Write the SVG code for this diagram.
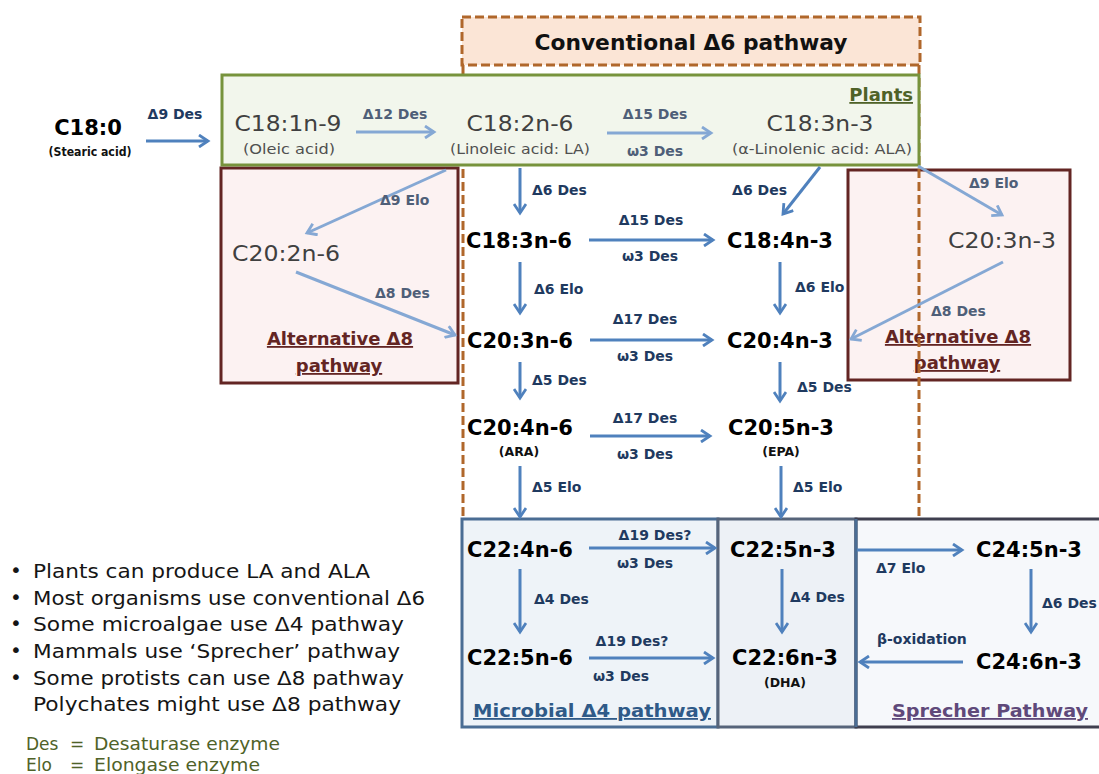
<svg xmlns="http://www.w3.org/2000/svg" width="1099" height="774" viewBox="0 0 1099 774">
<style>
text{font-family:"DejaVu Sans","Liberation Sans",sans-serif}
.n{font-weight:bold;font-size:21px;fill:#000;text-anchor:middle}
.g{font-size:21px;fill:#404040;text-anchor:middle}
.s{font-weight:bold;font-size:12.5px;fill:#111;text-anchor:middle}
.sg{font-size:14px;fill:#505050;text-anchor:middle}
.e{font-weight:bold;font-size:14px;fill:#1f3a60}
.el{font-weight:bold;font-size:14px;fill:#4f5f78}
.c{text-anchor:middle}
.ln{fill:none;stroke:#4f81bd;stroke-width:3;marker-end:url(#ah)}
.lt{fill:none;stroke:#85a8d4;stroke-width:3;marker-end:url(#al)}
.bl{font-size:20px;fill:#151515}
.lg{font-size:17px;fill:#4f6228}
.dash{stroke:#b0672b;stroke-width:3;stroke-dasharray:9 4}
.u{text-decoration:underline}
</style>
<defs>
<marker id="ah" viewBox="0 0 14 14" refX="11" refY="7" markerWidth="14" markerHeight="14" markerUnits="userSpaceOnUse" orient="auto"><path d="M2,1 L11,7 L2,13" fill="none" stroke="#4f81bd" stroke-width="2.8"/></marker>
<marker id="al" viewBox="0 0 14 14" refX="11" refY="7" markerWidth="14" markerHeight="14" markerUnits="userSpaceOnUse" orient="auto"><path d="M2,1 L11,7 L2,13" fill="none" stroke="#85a8d4" stroke-width="2.8"/></marker>
</defs>
<rect width="1099" height="774" fill="#fff"/>

<!-- containers -->
<g id="alt-left">
<rect x="221" y="168" width="237" height="215" fill="#fcf2f2" stroke="#632523" stroke-width="3"/>
<text x="340" y="345" font-weight="bold" font-size="18" fill="#632523" text-anchor="middle" class="u">Alternative Δ8</text>
<text x="339" y="372" font-weight="bold" font-size="18" fill="#632523" text-anchor="middle" class="u">pathway</text>
</g>
<g id="alt-right">
<rect x="848" y="170" width="222" height="210" fill="#fcf2f2" stroke="#632523" stroke-width="3"/>
<text x="958" y="343" font-weight="bold" font-size="18" fill="#632523" text-anchor="middle" class="u">Alternative Δ8</text>
<text x="957" y="369" font-weight="bold" font-size="18" fill="#632523" text-anchor="middle" class="u">pathway</text>
</g>
<g id="conventional">
<rect x="462" y="17" width="458" height="48" fill="#fbe5d6" class="dash"/>
<path d="M463,65 V518 M919,65 V518" fill="none" class="dash"/>
<text x="691" y="50" font-weight="bold" font-size="21" fill="#111" text-anchor="middle" textLength="313" lengthAdjust="spacingAndGlyphs">Conventional Δ6 pathway</text>
</g>
<g id="plants">
<rect x="222" y="75" width="697" height="90" fill="#f2f6ec" stroke="#77933c" stroke-width="3"/>
<text x="913" y="101" font-weight="bold" font-size="18" fill="#4f6228" text-anchor="end" class="u">Plants</text>
</g>
<g id="microbial">
<rect x="462" y="519" width="256" height="208" fill="#eef3f8" stroke="#4a6d94" stroke-width="3"/>
<text x="592" y="717" font-weight="bold" font-size="18" fill="#2f5a88" text-anchor="middle" class="u" textLength="238" lengthAdjust="spacingAndGlyphs">Microbial Δ4 pathway</text>
</g>
<g id="middle">
<rect x="718" y="519" width="138" height="208" fill="#edf1f6" stroke="#56647a" stroke-width="3"/>
</g>
<g id="sprecher">
<rect x="856" y="519" width="250" height="208" fill="#f6f8fb" stroke="#3f3f4f" stroke-width="3"/>
<path d="M856,519 V727" stroke="#4a6d94" stroke-width="3"/>
<text x="990" y="717" font-weight="bold" font-size="18" fill="#5f497a" text-anchor="middle" class="u" textLength="196" lengthAdjust="spacingAndGlyphs">Sprecher Pathway</text>
</g>

<!-- connectors -->
<g id="connectors">
<path class="ln" d="M146,141 H208"/>
<text class="e c" x="175" y="119">Δ9 Des</text>
<path class="lt" d="M356,132 H434"/>
<text class="el c" x="395" y="119">Δ12 Des</text>
<path class="lt" d="M607,133 H711"/>
<text class="el c" x="655" y="119">Δ15 Des</text>
<text class="el c" x="655" y="156">ω3 Des</text>
<path class="ln" d="M520,168 V213"/>
<text class="e" x="532" y="195">Δ6 Des</text>
<path class="ln" d="M820,167 L783,214"/>
<text class="e" x="787" y="195" text-anchor="end">Δ6 Des</text>
<path class="lt" d="M446,170 L307,233"/>
<text class="el" x="380" y="205">Δ9 Elo</text>
<path class="lt" d="M918,166 L1002,215"/>
<text class="el" x="969" y="188">Δ9 Elo</text>
<path class="lt" d="M296,272 L455,335"/>
<text class="el" x="375" y="298">Δ8 Des</text>
<path class="lt" d="M1003,262 L851,339"/>
<text class="el" x="931" y="316">Δ8 Des</text>

<path class="ln" d="M589,240 H713"/>
<text class="e c" x="651" y="225">Δ15 Des</text>
<text class="e c" x="650" y="261">ω3 Des</text>
<path class="ln" d="M520,262 V313"/>
<text class="e" x="534" y="294">Δ6 Elo</text>
<path class="ln" d="M780,262 V313"/>
<text class="e" x="795" y="292">Δ6 Elo</text>
<path class="ln" d="M590,340 H712"/>
<text class="e c" x="645" y="324">Δ17 Des</text>
<text class="e c" x="645" y="361">ω3 Des</text>
<path class="ln" d="M520,362 V398"/>
<text class="e" x="532" y="385">Δ5 Des</text>
<path class="ln" d="M780,362 V401"/>
<text class="e" x="797" y="392">Δ5 Des</text>
<path class="ln" d="M590,436 H710"/>
<text class="e c" x="645" y="423">Δ17 Des</text>
<text class="e c" x="645" y="459">ω3 Des</text>
<path class="ln" d="M520,466 V517"/>
<text class="e" x="532" y="492">Δ5 Elo</text>
<path class="ln" d="M781,466 V517"/>
<text class="e" x="793" y="492">Δ5 Elo</text>

<path class="ln" d="M589,548 H715"/>
<text class="e c" x="655" y="540">Δ19 Des?</text>
<text class="e c" x="645" y="568">ω3 Des</text>
<path class="ln" d="M520,569 V632"/>
<text class="e" x="534" y="604">Δ4 Des</text>
<path class="ln" d="M782,569 V632"/>
<text class="e" x="790" y="602">Δ4 Des</text>
<path class="ln" d="M857,550 H962"/>
<text class="e" x="876" y="573">Δ7 Elo</text>
<path class="ln" d="M1031,569 V632"/>
<text class="e" x="1042" y="608">Δ6 Des</text>
<path class="ln" d="M589,658 H713"/>
<text class="e c" x="632" y="646">Δ19 Des?</text>
<text class="e c" x="621" y="681">ω3 Des</text>
<path class="ln" d="M963,662 H860"/>
<text class="e" x="877" y="644">β-oxidation</text>
</g>

<!-- nodes -->
<g id="c18-0"><text class="n" x="88" y="135">C18:0</text><text class="s" x="90" y="156" textLength="83" lengthAdjust="spacingAndGlyphs">(Stearic acid)</text></g>
<g id="c18-1n9"><text class="g" x="288" y="131" textLength="107" lengthAdjust="spacingAndGlyphs">C18:1n-9</text><text class="sg" x="289" y="154" textLength="92" lengthAdjust="spacingAndGlyphs">(Oleic acid)</text></g>
<g id="c18-2n6"><text class="g" x="520" y="131" textLength="107" lengthAdjust="spacingAndGlyphs">C18:2n-6</text><text class="sg" x="520" y="154" textLength="140" lengthAdjust="spacingAndGlyphs">(Linoleic acid: LA)</text></g>
<g id="c18-3n3"><text class="g" x="820" y="131" textLength="107" lengthAdjust="spacingAndGlyphs">C18:3n-3</text><text class="sg" x="822" y="154" textLength="180" lengthAdjust="spacingAndGlyphs">(α-Linolenic acid: ALA)</text></g>
<g id="c18-3n6"><text class="n" x="519" y="248">C18:3n-6</text></g>
<g id="c18-4n3"><text class="n" x="780" y="248">C18:4n-3</text></g>
<g id="c20-2n6"><text class="g" x="286" y="261" textLength="108" lengthAdjust="spacingAndGlyphs">C20:2n-6</text></g>
<g id="c20-3n3"><text class="g" x="1002" y="248" textLength="108" lengthAdjust="spacingAndGlyphs">C20:3n-3</text></g>
<g id="c20-3n6"><text class="n" x="520" y="348">C20:3n-6</text></g>
<g id="c20-4n3"><text class="n" x="780" y="348">C20:4n-3</text></g>
<g id="c20-4n6"><text class="n" x="520" y="435">C20:4n-6</text><text class="s" x="519" y="456">(ARA)</text></g>
<g id="c20-5n3"><text class="n" x="781" y="435">C20:5n-3</text><text class="s" x="781" y="456">(EPA)</text></g>
<g id="c22-4n6"><text class="n" x="520" y="557">C22:4n-6</text></g>
<g id="c22-5n3"><text class="n" x="783" y="557">C22:5n-3</text></g>
<g id="c24-5n3"><text class="n" x="1029" y="557">C24:5n-3</text></g>
<g id="c22-5n6"><text class="n" x="520" y="665">C22:5n-6</text></g>
<g id="c22-6n3"><text class="n" x="785" y="665">C22:6n-3</text><text class="s" x="785" y="687">(DHA)</text></g>
<g id="c24-6n3"><text class="n" x="1029" y="669">C24:6n-3</text></g>

<!-- notes -->
<g id="notes">
<text class="bl" x="10" y="577">•</text><text class="bl" x="33" y="578" textLength="337" lengthAdjust="spacingAndGlyphs">Plants can produce LA and ALA</text>
<text class="bl" x="10" y="604">•</text><text class="bl" x="33" y="605" textLength="392" lengthAdjust="spacingAndGlyphs">Most organisms use conventional Δ6</text>
<text class="bl" x="10" y="630">•</text><text class="bl" x="33" y="631" textLength="371" lengthAdjust="spacingAndGlyphs">Some microalgae use Δ4 pathway</text>
<text class="bl" x="10" y="657">•</text><text class="bl" x="33" y="658" textLength="367" lengthAdjust="spacingAndGlyphs">Mammals use ‘Sprecher’ pathway</text>
<text class="bl" x="10" y="684">•</text><text class="bl" x="33" y="685" textLength="371" lengthAdjust="spacingAndGlyphs">Some protists can use Δ8 pathway</text>
<text class="bl" x="33" y="711" textLength="368" lengthAdjust="spacingAndGlyphs">Polychates might use Δ8 pathway</text>
</g>
<g id="legend">
<text class="lg" x="26" y="750">Des</text><text class="lg" x="70" y="750">=</text><text class="lg" x="94" y="750" textLength="186" lengthAdjust="spacingAndGlyphs">Desaturase enzyme</text>
<text class="lg" x="26" y="771">Elo</text><text class="lg" x="70" y="771">=</text><text class="lg" x="94" y="771" textLength="166" lengthAdjust="spacingAndGlyphs">Elongase enzyme</text>
</g>
</svg>
